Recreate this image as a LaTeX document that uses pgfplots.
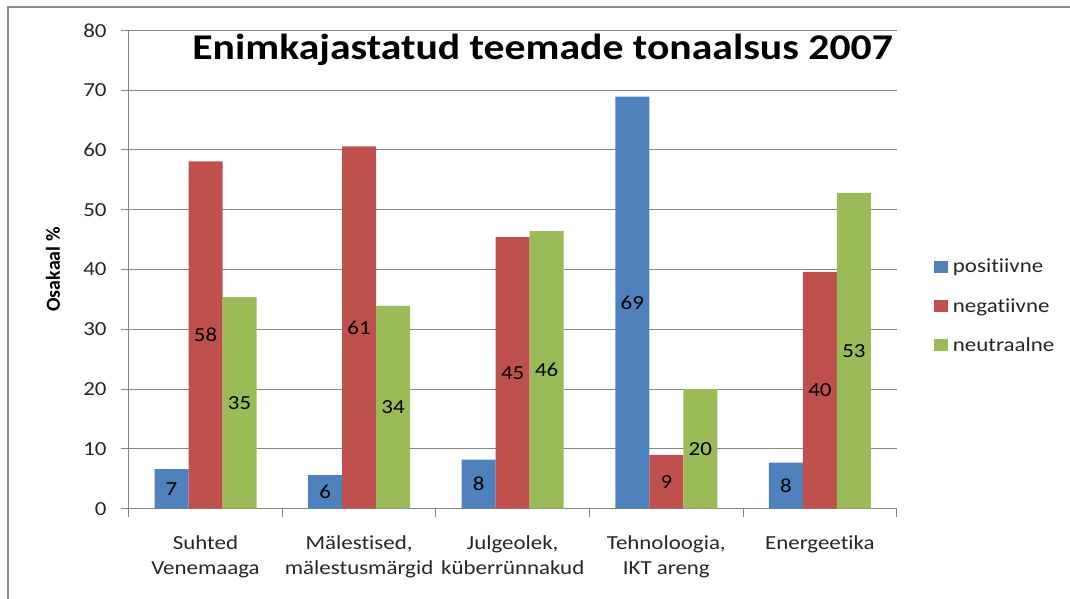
\documentclass[border=0pt]{standalone}
\usepackage{fontspec}
\setmainfont{Carlito}[FakeStretch=1.15, Ligatures=NoCommon]
\newfontfamily\plainfont{Carlito}[Ligatures=NoCommon]
\usepackage{pgfplots}
\pgfplotsset{compat=1.18}
\definecolor{cblue}{HTML}{4F81BD}
\definecolor{cred}{HTML}{C0504D}
\definecolor{cgreen}{HTML}{9BBB59}
\definecolor{gline}{HTML}{868686}
\definecolor{frame}{HTML}{8C8C8C}

\begin{document}
\begin{tikzpicture}[x=1bp,y=1bp]
\useasboundingbox (0,0) rectangle (1070,599);
% chart border (left and top edges)
\draw[frame, line width=2bp] (7.5,0) -- (7.5,592.3) -- (1070,592.3);

\begin{axis}[
  at={(128.7bp,90.3bp)}, anchor=south west,
  scale only axis, width=768bp, height=478.4bp,
  ybar=0pt, bar width=34bp,
  xmin=-0.5, xmax=4.5, ymin=0, ymax=80,
  xtick={0,1,2,3,4},
  xticklabels={{Suhted\\Venemaaga},{Mälestised,\\mälestusmärgid},{Julgeolek,\\küberrünnakud},{Tehnoloogia,\\IKT areng},{Energeetika}},
  minor xtick={-0.5,0.5,1.5,2.5,3.5,4.5},
  major x tick style={draw=none},
  minor x tick style={draw=gline, line width=1bp},
  minor tick length=8bp,
  ytick={0,10,...,80},
  major tick length=8bp,
  y tick style={draw=gline, line width=1bp},
  tick align=outside,
  axis x line*=bottom, axis y line*=left,
  axis line style={draw=gline, line width=1bp, -},
  ymajorgrids, grid style={draw=gline, line width=1bp},
  /pgf/number format/assume math mode=true,
  /pgf/number format/fixed, /pgf/number format/precision=0,
  tick label style={font=\fontsize{20}{25}\selectfont, text=black!85},
  xticklabel style={align=center, anchor=north, inner sep=0pt, yshift=-19bp},
  yticklabel style={anchor=east, inner sep=0pt, xshift=-14bp},
  nodes near coords,
  visualization depends on={rawy \as \rawy},
  every node near coord/.append style={anchor=center, inner sep=0pt,
    shift={(axis direction cs:0,-\rawy/2)}, font=\fontsize{20}{24}\selectfont, text=black},
  legend style={at={(axis description cs:1.0486,0.522)}, anchor=north west,
    draw=none, fill=none, inner sep=0pt, row sep=24bp, column sep=5bp,
    nodes={inner sep=0pt}, font=\fontsize{20}{24}\selectfont, text=black!85},
  legend cell align=left,
  legend image code/.code={\fill[#1] (0bp,-6bp) rectangle (13.7bp,6bp);},
]
\addplot[fill=cblue, draw=none] coordinates {(0,6.6) (1,5.6) (2,8.2) (3,68.9) (4,7.7)};
\addplot[fill=cred, draw=none] coordinates {(0,58.1) (1,60.6) (2,45.4) (3,9.0) (4,39.6)};
\addplot[fill=cgreen, draw=none] coordinates {(0,35.4) (1,33.9) (2,46.4) (3,20.0) (4,52.8)};
\legend{positiivne, negatiivne, neutraalne}
\end{axis}

\node[rotate=90, inner sep=0pt, font=\plainfont\fontsize{20}{24}\selectfont\bfseries] at (53,329.5) {Osakaal \%};
\node[anchor=base east, inner sep=0pt, font=\fontsize{36.4}{40}\selectfont\bfseries] at (893,539) {Enimkajastatud teemade tonaalsus 2007};
\end{tikzpicture}
\end{document}
